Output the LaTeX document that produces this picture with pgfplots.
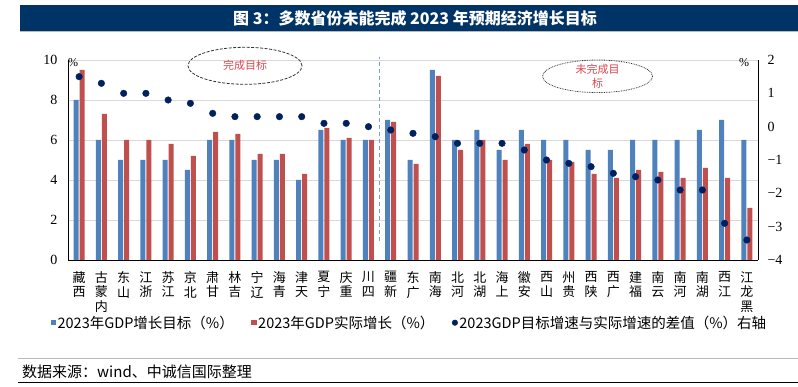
\documentclass[border=0pt]{standalone}
\usepackage{pgfplots}
\pgfplotsset{compat=1.18}
\usepackage{pgfplotstable}
\usepackage{fontspec}
\setmainfont{Liberation Serif}
\newfontfamily\cjk{Noto Sans CJK SC}
\definecolor{barblue}{RGB}{79,129,189}
\definecolor{barred}{RGB}{192,80,77}
\definecolor{dotnavy}{RGB}{0,32,96}
\definecolor{titlebg}{RGB}{0,51,102}
\definecolor{annred}{RGB}{220,70,80}
\definecolor{dashblue}{RGB}{120,160,215}

\pgfplotstableread{
idx target actual diff
0 8.0 9.5 1.5
1 6.0 7.3 1.3
2 5.0 6.0 1.0
3 5.0 6.0 1.0
4 5.0 5.8 0.8
5 4.5 5.2 0.7
6 6.0 6.4 0.4
7 6.0 6.3 0.3
8 5.0 5.3 0.3
9 5.0 5.3 0.3
10 4.0 4.3 0.3
11 6.5 6.6 0.1
12 6.0 6.1 0.1
13 6.0 6.0 0.0
14 7.0 6.9 -0.1
15 5.0 4.8 -0.2
16 9.5 9.2 -0.3
17 6.0 5.5 -0.5
18 6.5 6.0 -0.5
19 5.5 5.0 -0.5
20 6.5 5.8 -0.7
21 6.0 5.0 -1.0
22 6.0 4.9 -1.1
23 5.5 4.3 -1.2
24 5.5 4.1 -1.4
25 6.0 4.5 -1.5
26 6.0 4.4 -1.6
27 6.0 4.1 -1.9
28 6.5 4.6 -1.9
29 7.0 4.1 -2.9
30 6.0 2.6 -3.4
}\gdp

\begin{document}
\begin{tikzpicture}
\path[use as bounding box] (0pt,0pt) rectangle (798pt,387pt);
% title bar
\fill[titlebg] (19.5pt,355pt) rectangle (798pt,382pt);
\draw[gray!55, line width=1pt] (19.5pt,355pt) -- (798pt,355pt);
\node[text=white, font=\cjk\bfseries\fontsize{16}{16}\selectfont] at (415pt,368.5pt) {图 3：多数省份未能完成 2023 年预期经济增长目标};

\begin{axis}[
  at={(68pt,127pt)}, anchor=south west, scale only axis,
  width=690pt, height=200pt,
  xmin=-0.5, xmax=30.5, ymin=0, ymax=10,
  enlargelimits=false,
  ybar=1pt, bar width=5pt,
  axis y line*=left, axis x line*=bottom,
  axis line style={-, black, line width=0.8pt},
  xtick={0,...,30},
  xticklabels={{藏\\西},{古\\蒙\\内},{东\\山},{江\\浙},{苏\\江},{京\\北},{肃\\甘},{林\\吉},{宁\\辽},{海\\青},{津\\天},{夏\\宁},{庆\\重},{川\\四},{疆\\新},{东\\广},{南\\海},{北\\河},{北\\湖},{海\\上},{徽\\安},{西\\山},{州\\贵},{西\\陕},{西\\广},{建\\福},{南\\云},{南\\河},{南\\湖},{西\\江},{江\\龙\\黑}},
  xticklabel style={font={\cjk\fontsize{13}{14.5}\selectfont}, align=center, anchor=north, yshift=-8pt},
  ytick={0,2,...,10},
  yticklabel style={font={\fontsize{14}{14}\selectfont}, xshift=-7pt},
  /pgf/number format/assume math mode=true,
  major tick length=0pt,
  ymajorgrids, grid style={draw=gray!30, line width=0.8pt},
  clip=false,
  legend columns=3,
  legend style={at={(-0.025,-0.3135)}, anchor=west, draw=none, fill=none,
    inner sep=0pt, outer sep=0pt,
    nodes={inner sep=1.5pt},
    font={\cjk\fontsize{14.5}{16}\selectfont},
    /tikz/every even column/.append style={column sep=16pt}},
  legend cell align=left,
]
\addplot[fill=barblue, draw=none,
  legend image code/.code={\fill[barblue] (0pt,-2.7pt) rectangle (5.4pt,2.7pt);}]
  table[x=idx, y=target] {\gdp};
\addlegendentry{2023年GDP增长目标（\%）}
\addplot[fill=barred, draw=none,
  legend image code/.code={\fill[barred] (0pt,-2.7pt) rectangle (5.4pt,2.7pt);}]
  table[x=idx, y=actual] {\gdp};
\addlegendentry{2023年GDP实际增长（\%）}
\addlegendimage{legend image code/.code={\fill[dotnavy] (2.8pt,0pt) circle (2.8pt);}}
\addlegendentry{2023GDP目标增速与实际增速的差值（\%）右轴}
\draw[dashblue, line width=1pt, dash pattern=on 4pt off 3pt] (axis cs:13.5,0.95) -- (axis cs:13.5,10.16);
\end{axis}

\begin{axis}[
  at={(68pt,127pt)}, anchor=south west, scale only axis,
  width=690pt, height=200pt,
  xmin=-0.5, xmax=30.5, ymin=-4, ymax=2,
  enlargelimits=false,
  axis y line*=right, axis x line=none,
  axis line style={-, black, line width=0.8pt},
  ytick={-4,-3,...,2},
  yticklabels={−4,−3,−2,−1,0,1,2},
  yticklabel style={font={\fontsize{14}{14}\selectfont}, xshift=6pt},
  major tick length=0pt,
  clip=false,
]
\addplot[only marks, mark=*, mark size=3.3pt, mark options={fill=dotnavy, draw=dotnavy}]
  table[x=idx, y=diff] {\gdp};
\end{axis}

% annotations
\draw[black!80, line width=0.8pt, dash pattern=on 3pt off 1.5pt] (245pt,321.2pt) ellipse [x radius=57pt, y radius=18.5pt];
\node[text=annred, font={\cjk\fontsize{11}{13}\selectfont}] at (245pt,321.2pt) {完成目标};
\draw[black!80, line width=0.8pt, dash pattern=on 0.8pt off 0.9pt] (597.5pt,310.7pt) ellipse [x radius=55pt, y radius=16.3pt];
\node[text=annred, font={\cjk\fontsize{11}{14}\selectfont}, align=center] at (597.5pt,311pt) {未完成目\\标};
\node[font={\fontsize{12}{12}\selectfont}] at (73pt,324pt) {\%};
\node[font={\fontsize{12}{12}\selectfont}] at (744pt,324pt) {\%};

% source
\draw[gray!55, line width=1pt] (18pt,28pt) -- (798pt,28pt);
\node[anchor=west, inner sep=0pt, font={\cjk\fontsize{15}{15}\selectfont}] at (22pt,15.3pt) {数据来源：wind、中诚信国际整理};
\draw[black, line width=1.2pt] (18pt,4.3pt) -- (798pt,4.3pt);
\end{tikzpicture}
\end{document}
